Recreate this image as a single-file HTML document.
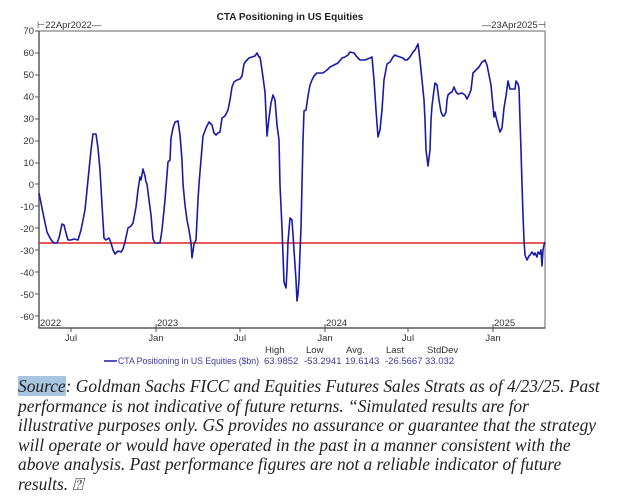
<!DOCTYPE html>
<html><head><meta charset="utf-8"><style>
body{margin:0;background:#fff;width:630px;height:501px;overflow:hidden;position:relative}
svg{position:absolute;left:0;top:0}
.t{font-family:"Liberation Sans",Arial,sans-serif;font-size:9.5px;fill:#333}
.note{position:absolute;left:18px;top:377px;width:612px;white-space:nowrap;font-family:"Liberation Serif",serif;font-style:italic;font-size:17.4px;line-height:19.6px;color:#222}
.src{background:#a9c4de}
</style></head><body>
<svg width="630" height="370" viewBox="0 0 630 370">
<rect x="39" y="31" width="506" height="297" fill="#fff" stroke="#999" stroke-width="1.5"/>
<line x1="39" y1="31" x2="39" y2="328" stroke="#555" stroke-width="1.2"/>
<line x1="39" y1="328" x2="545" y2="328" stroke="#555" stroke-width="1.2"/>
<text x="290" y="20" text-anchor="middle" font-family="Liberation Sans,Arial,sans-serif" font-size="10px" font-weight="bold" fill="#222">CTA Positioning in US Equities</text>
<text x="37" y="28" class="t">⊢22Apr2022—</text>
<text x="546" y="28" class="t" text-anchor="end">—23Apr2025⊣</text>
<g class="t" text-anchor="end">
<text x="34" y="34">70</text><text x="34" y="56">60</text><text x="34" y="78">50</text><text x="34" y="100">40</text><text x="34" y="122">30</text><text x="34" y="144">20</text><text x="34" y="166">10</text><text x="34" y="188">0</text><text x="34" y="210">-10</text><text x="34" y="232">-20</text><text x="34" y="254">-30</text><text x="34" y="276">-40</text><text x="34" y="298">-50</text><text x="34" y="320">-60</text>
</g>
<g stroke="#555" stroke-width="1">
<line x1="35" y1="31" x2="39" y2="31"/><line x1="35" y1="53" x2="39" y2="53"/><line x1="35" y1="75" x2="39" y2="75"/><line x1="35" y1="97" x2="39" y2="97"/><line x1="35" y1="119" x2="39" y2="119"/><line x1="35" y1="141" x2="39" y2="141"/><line x1="35" y1="163" x2="39" y2="163"/><line x1="35" y1="184" x2="39" y2="184"/><line x1="35" y1="206" x2="39" y2="206"/><line x1="35" y1="228" x2="39" y2="228"/><line x1="35" y1="250" x2="39" y2="250"/><line x1="35" y1="272" x2="39" y2="272"/><line x1="35" y1="294" x2="39" y2="294"/><line x1="35" y1="316" x2="39" y2="316"/>
<line x1="71" y1="328" x2="71" y2="332"/><line x1="156" y1="324" x2="156" y2="332"/><line x1="240" y1="328" x2="240" y2="332"/><line x1="325" y1="324" x2="325" y2="332"/><line x1="408" y1="328" x2="408" y2="332"/><line x1="493" y1="324" x2="493" y2="332"/>
</g>
<g class="t">
<text x="40" y="326">2022</text><text x="157" y="326">2023</text><text x="326" y="326">2024</text><text x="494" y="326">2025</text>
<text x="71" y="341" text-anchor="middle">Jul</text><text x="156" y="341" text-anchor="middle">Jan</text><text x="240" y="341" text-anchor="middle">Jul</text><text x="325" y="341" text-anchor="middle">Jan</text><text x="408" y="341" text-anchor="middle">Jul</text><text x="493" y="341" text-anchor="middle">Jan</text>
</g>
<line x1="39" y1="243" x2="545" y2="243" stroke="#e02020" stroke-width="1.5"/>
<polyline fill="none" stroke="#1a1aa8" stroke-width="1.6" stroke-linejoin="round" points="39,193 41,203 44,218 47,232 50,238 52,241 54,243 57,243 59,238 62,224 64,225 66,233 68,240 71,240 74,239 78,240 81,230 85,210 88,180 91,150 93,134 96,134 98,148 100,170 102,205 104,238 106,240 109,238 111,243 113,250 115,254 118,251 121,252 123,249 125,242 128,228 131,226 133,223 136,207 138,190 140,177 141,180 143,169 145,176 146,182 147,184 149,200 151,215 153,239 155,243 160,243 162,230 165,200 168,162 170,160 171,138 173,128 175,122 178,121 180,135 182,160 183,184 185,205 187,220 189,230 191,243 192,258 194,244 196,240 198,200 199,184 201,160 203,136 206,128 209,122 212,125 214,133 216,135 218,133 220,132 222,118 225,116 228,110 230,100 232,87 234,82 237,80 240,79 242,76 244,64 246,61 249,58 252,57 255,56 257,53 259,57 260,57 262,70 265,92 267,136 269,118 271,103 273,95 275,100 277,125 279,140 280,185 282,228 284,282 286,288 287,270 288,242 290,218 292,220 294,250 295,265 296,280 297,301 298,294 299,280 300,252 301,228 302,184 303,140 304,111 306,110 308,96 310,85 312,80 314,76 317,73 323,73 327,70 330,67 334,65 338,63 342,58 345,57 348,55 350,52 354,53 357,57 360,60 365,60 370,58 372,57 374,80 376,110 378,137 380,130 382,110 384,80 387,64 390,62 393,57 395,55 397,56 400,57 403,58 405,60 407,60 410,57 413,52 415,50 418,44 420,60 422,80 424,100 425,120 426,150 428,166 430,150 431,120 432,106 434,90 435,83 437,85 439,100 441,112 443,116 444,116 446,112 447,100 448,95 450,93 452,92 454,87 456,92 458,94 462,93 465,95 467,99 469,95 471,90 473,73 476,70 479,67 482,62 484,61 485,60 487,65 489,75 491,85 492,96 494,117 495,112 496,117 498,125 500,132 502,128 504,108 506,96 508,81 510,89 513,89 515,89 516,81 518,84 519,88 520,120 521,150 522,184 523,215 524,240 525,255 527,260 529,256 530,255 532,252 534,255 535,253 537,257 538,252 540,254 541,250 542,266 543,250 544,245 545,242"/>
<g class="t">
<text x="265" y="353">High</text><text x="306" y="353">Low</text><text x="346" y="353">Avg.</text><text x="386" y="353">Last</text><text x="427" y="353">StdDev</text>
</g>
<line x1="104" y1="361" x2="117" y2="361" stroke="#1a1aa8" stroke-width="1.5"/>
<g class="t" style="fill:#3a3aa0">
<text x="118" y="364" textLength="141" lengthAdjust="spacingAndGlyphs">CTA Positioning in US Equities ($bn)</text>
<text x="264" y="364">63.9852</text><text x="304" y="364">-53.2941</text><text x="345" y="364">19.6143</text><text x="385" y="364">-26.5667</text><text x="425" y="364">33.032</text>
</g>
</svg>
<div class="note"><span class="src">Source</span>: Goldman Sachs FICC and Equities Futures Sales Strats as of 4/23/25. Past<br>performance is not indicative of future returns. “Simulated results are for<br>illustrative purposes only. GS provides no assurance or guarantee that the strategy<br>will operate or would have operated in the past in a manner consistent with the<br>above analysis. Past performance figures are not a reliable indicator of future<br>results. ⍰</div>
</body></html>
